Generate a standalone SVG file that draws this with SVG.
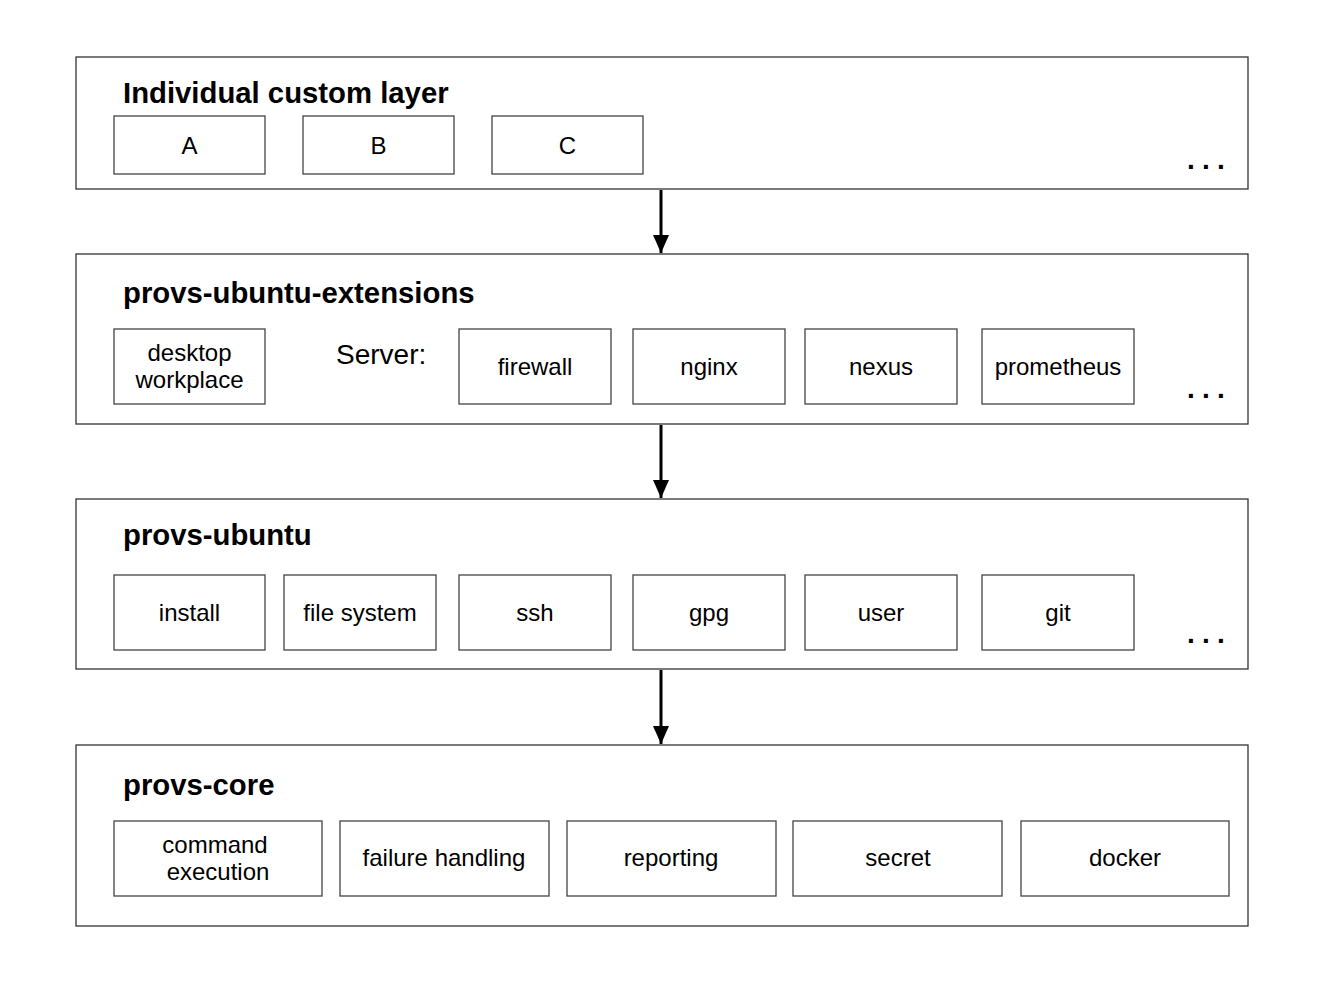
<svg xmlns="http://www.w3.org/2000/svg" width="1323" height="986" viewBox="0 0 1323 986">
<defs>
<style>
.layer{fill:#fff;stroke:#333;stroke-width:1.3}
.box{fill:#fff;stroke:#444;stroke-width:1.3}
.title{font-family:"Liberation Sans",Arial,sans-serif;font-weight:bold;font-size:29.3px;fill:#000}
.lbl{font-family:"Liberation Sans",Arial,sans-serif;font-size:24px;fill:#000;text-anchor:middle}
.dots{font-family:"Liberation Sans",Arial,sans-serif;font-weight:bold;font-size:28px;letter-spacing:7.2px;fill:#000}
.conn{stroke:#000;stroke-width:3;fill:none}
</style>
<marker id="arrow" viewBox="0 0 18 16" refX="18" refY="8" markerWidth="18" markerHeight="16" markerUnits="userSpaceOnUse" orient="auto">
<path d="M0,0 L18,8 L0,16 Z" fill="#000"/>
</marker>
</defs>
<rect width="1323" height="986" fill="#fff"/>

<g id="layer-custom">
<rect class="layer" x="76" y="57" width="1172" height="132"/>
<text class="title" x="123" y="103">Individual custom layer</text>
<text class="dots" x="1187" y="169">...</text>
</g>
<g id="node-A"><rect class="box" x="114" y="116" width="151" height="58"/><text class="lbl" x="189.5" y="153.5">A</text></g>
<g id="node-B"><rect class="box" x="303" y="116" width="151" height="58"/><text class="lbl" x="378.5" y="153.5">B</text></g>
<g id="node-C"><rect class="box" x="492" y="116" width="151" height="58"/><text class="lbl" x="567.5" y="153.5">C</text></g>

<g id="layer-extensions">
<rect class="layer" x="76" y="254" width="1172" height="170"/>
<text class="title" x="123" y="303">provs-ubuntu-extensions</text>
<text x="336" y="364" style="font-family:'Liberation Sans',Arial,sans-serif;font-size:28px;fill:#000">Server:</text>
<text class="dots" x="1187" y="398">...</text>
</g>
<g id="node-desktop"><rect class="box" x="114" y="329" width="151" height="75"/><text class="lbl" x="189.5" y="361">desktop</text><text class="lbl" x="189.5" y="388">workplace</text></g>
<g id="node-firewall"><rect class="box" x="459" y="329" width="152" height="75"/><text class="lbl" x="535" y="375">firewall</text></g>
<g id="node-nginx"><rect class="box" x="633" y="329" width="152" height="75"/><text class="lbl" x="709" y="375">nginx</text></g>
<g id="node-nexus"><rect class="box" x="805" y="329" width="152" height="75"/><text class="lbl" x="881" y="375">nexus</text></g>
<g id="node-prometheus"><rect class="box" x="982" y="329" width="152" height="75"/><text class="lbl" x="1058" y="375">prometheus</text></g>

<g id="layer-ubuntu">
<rect class="layer" x="76" y="499" width="1172" height="170"/>
<text class="title" x="123" y="545">provs-ubuntu</text>
<text class="dots" x="1187" y="643">...</text>
</g>
<g id="node-install"><rect class="box" x="114" y="575" width="151" height="75"/><text class="lbl" x="189.5" y="621">install</text></g>
<g id="node-filesystem"><rect class="box" x="284" y="575" width="152" height="75"/><text class="lbl" x="360" y="621">file system</text></g>
<g id="node-ssh"><rect class="box" x="459" y="575" width="152" height="75"/><text class="lbl" x="535" y="621">ssh</text></g>
<g id="node-gpg"><rect class="box" x="633" y="575" width="152" height="75"/><text class="lbl" x="709" y="621">gpg</text></g>
<g id="node-user"><rect class="box" x="805" y="575" width="152" height="75"/><text class="lbl" x="881" y="621">user</text></g>
<g id="node-git"><rect class="box" x="982" y="575" width="152" height="75"/><text class="lbl" x="1058" y="621">git</text></g>

<g id="layer-core">
<rect class="layer" x="76" y="745" width="1172" height="181"/>
<text class="title" x="123" y="795">provs-core</text>
</g>
<g id="node-command"><rect class="box" x="114" y="821" width="208" height="75"/><text class="lbl" x="215" y="853">command</text><text class="lbl" x="218" y="880">execution</text></g>
<g id="node-failure"><rect class="box" x="340" y="821" width="209" height="75"/><text class="lbl" x="444" y="866">failure handling</text></g>
<g id="node-reporting"><rect class="box" x="567" y="821" width="209" height="75"/><text class="lbl" x="671" y="866">reporting</text></g>
<g id="node-secret"><rect class="box" x="793" y="821" width="209" height="75"/><text class="lbl" x="898" y="866">secret</text></g>
<g id="node-docker"><rect class="box" x="1021" y="821" width="208" height="75"/><text class="lbl" x="1125" y="866">docker</text></g>

<g id="connectors">
<line class="conn" x1="661" y1="190" x2="661" y2="253" marker-end="url(#arrow)"/>
<line class="conn" x1="661" y1="425" x2="661" y2="498" marker-end="url(#arrow)"/>
<line class="conn" x1="661" y1="670" x2="661" y2="744" marker-end="url(#arrow)"/>
</g>
</svg>
